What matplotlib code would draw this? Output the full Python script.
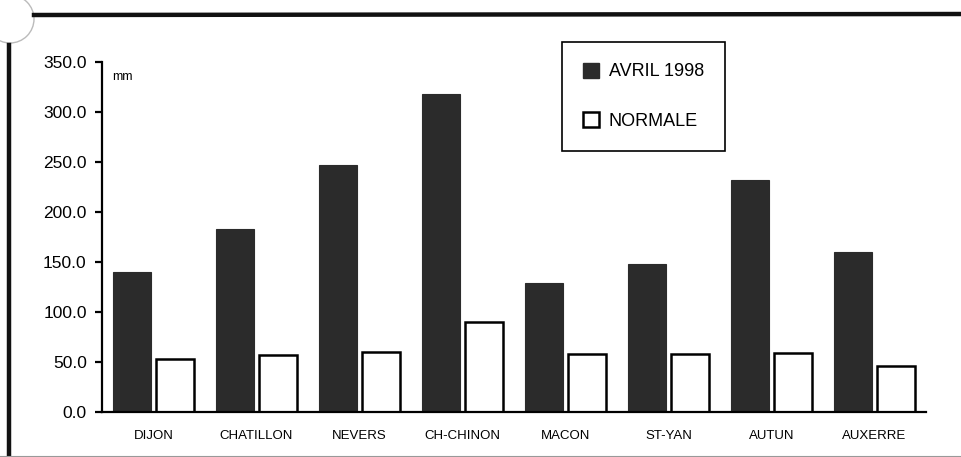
import matplotlib
matplotlib.use("Agg")
import matplotlib.pyplot as plt
import numpy as np
from matplotlib.patches import Patch, Circle
from matplotlib.lines import Line2D

plt.rcParams['font.family'] = ['Liberation Sans', 'DejaVu Sans']

stations = ["DIJON", "CHATILLON", "NEVERS", "CH-CHINON", "MACON", "ST-YAN", "AUTUN", "AUXERRE"]
avril_1998 = [140.0, 183.0, 247.0, 318.0, 129.0, 148.0, 232.0, 160.0]
normale = [53.0, 57.0, 60.0, 90.0, 58.0, 58.0, 59.0, 46.0]
yticks = [0, 50, 100, 150, 200, 250, 300, 350]

W, H = 962, 457
fig = plt.figure(figsize=(W / 100, H / 100), dpi=100)
ax = fig.add_axes([102 / W, (H - 412) / H, 824 / W, 350 / H])

x = np.arange(len(stations))
bw = 0.37
dark = '#2b2b2b'
ax.bar(x - 0.205, avril_1998, bw, color=dark, edgecolor=dark, linewidth=0.8, label='AVRIL 1998')
ax.bar(x + 0.205, normale, bw, color='white', edgecolor='black', linewidth=1.8, label='NORMALE')

ax.set_xlim(-0.5, len(stations) - 0.5)
ax.set_ylim(0, 350)
ax.set_yticks(yticks)
ax.set_yticklabels([f"{v:.1f}" for v in yticks], fontsize=12.5)
ax.set_xticks(x)
ax.set_xticklabels(stations, fontsize=9.5)
ax.tick_params(axis='x', length=0, pad=13)
ax.tick_params(axis='y', direction='out', length=5, width=1.6, pad=6)
for s in ['top', 'right']:
    ax.spines[s].set_visible(False)
for s in ['left', 'bottom']:
    ax.spines[s].set_linewidth(1.6)

fig.text(112 / W, 1 - 77 / H, 'mm', fontsize=9, va='center', ha='left')

handles = [Patch(facecolor=dark, edgecolor=dark, label='AVRIL 1998'),
           Patch(facecolor='white', edgecolor='black', linewidth=1.8, label='NORMALE')]
leg = ax.legend(handles=handles, loc='upper left',
                bbox_to_anchor=(562 / W, 1 - 42 / H), bbox_transform=fig.transFigure,
                fontsize=13, handlelength=0.9, handleheight=0.9, handletextpad=0.55,
                labelspacing=1.75, borderpad=1.15, borderaxespad=0,
                fancybox=False, frameon=True, edgecolor='black', framealpha=1)
leg.get_frame().set_linewidth(1.2)

# scanned page frame
fig.add_artist(Line2D([34 / W, 1.0], [1 - 15 / H, 1 - 14 / H], transform=fig.transFigure,
                      color='#111111', linewidth=3.2))
fig.add_artist(Line2D([8.5 / W, 8.5 / W], [0, 1 - 45 / H], transform=fig.transFigure,
                      color='#111111', linewidth=3.2))
fig.add_artist(Line2D([0, 1.0], [1.5 / H, 1.5 / H], transform=fig.transFigure,
                      color='#999999', linewidth=0.8))
fig.add_artist(Circle((10 / 100, (H - 19) / 100), 24 / 100, transform=fig.dpi_scale_trans,
                      facecolor='white', edgecolor='#bbbbbb', linewidth=1.0))

fig.savefig('out.png', dpi=100)
